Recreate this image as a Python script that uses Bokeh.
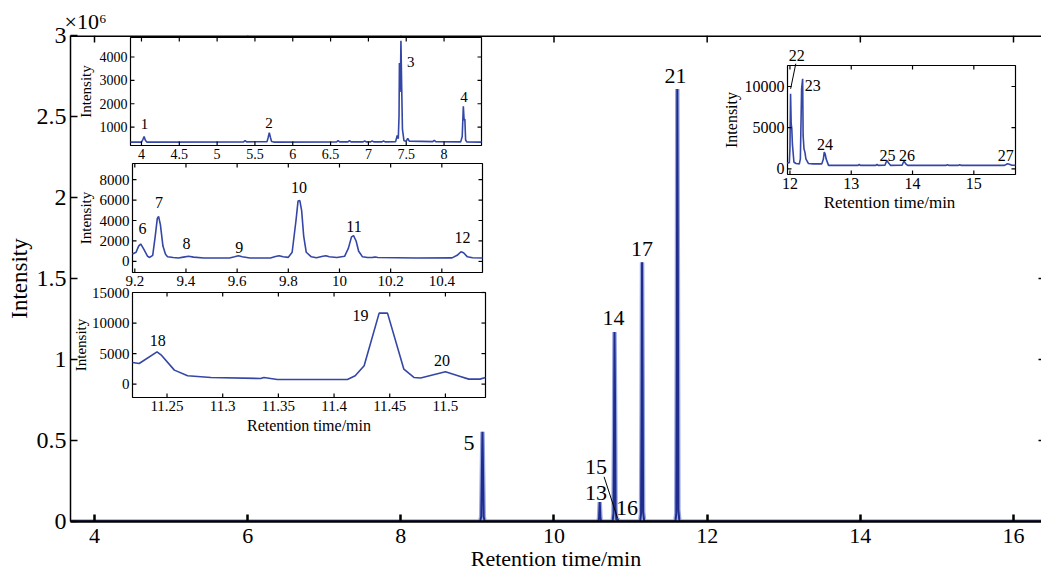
from bokeh.plotting import figure
from bokeh.models import Range1d, LinearAxis, FixedTicker, Label, Span
from bokeh.core.properties import value
from bokeh.embed import file_html
from bokeh.resources import INLINE

FONT = "Liberation Serif"

# ---------------- data ----------------
# main chromatogram, intensity in units of 10^6
main_rt = [3.69, 9.035, 9.05, 9.058, 9.066, 9.074, 9.082, 9.095,
           10.575, 10.588, 10.597, 10.606, 10.618,
           10.765, 10.777, 10.784, 10.79, 10.797, 10.804, 10.815, 10.83, 10.845,
           11.125, 11.137, 11.144, 11.15, 11.157, 11.164, 11.178,
           11.585, 11.597, 11.604, 11.61, 11.617, 11.624, 11.638, 16.36]
main_int = [0, 0, 0.03, 0.30, 0.554, 0.30, 0.03, 0,
            0, 0.02, 0.12, 0.02, 0,
            0, 0.05, 0.55, 1.17, 0.75, 0.08, 0.01, 0.015, 0,
            0, 0.05, 0.70, 1.60, 0.90, 0.06, 0,
            0, 0.05, 1.10, 2.67, 1.60, 0.07, 0, 0]

# inset 1: 3.9-8.5 min
ins1_rt = [3.855, 4.00, 4.02, 4.035, 4.05, 4.07, 5.35, 5.37, 5.39, 5.66, 5.675, 5.69, 5.705, 5.72, 5.75,
           6.58, 6.60, 6.62, 6.73, 6.75, 6.77, 6.93, 6.95, 6.97, 7.03, 7.05, 7.07, 7.18, 7.20, 7.22,
           7.36, 7.38, 7.395, 7.405, 7.41, 7.418, 7.425, 7.43, 7.44, 7.45, 7.47, 7.50, 7.52, 7.54,
           7.85, 7.87, 7.89, 8.22, 8.24, 8.255, 8.265, 8.275, 8.285, 8.30, 8.495]
ins1_int = [360, 360, 480, 600, 450, 360, 370, 430, 370, 380, 560, 760, 560, 390, 360,
            370, 420, 370, 370, 420, 370, 370, 410, 370, 370, 410, 370, 370, 410, 370,
            380, 650, 500, 1500, 3740, 2500, 3400, 4690, 2700, 900, 420, 400, 520, 400,
            380, 440, 380, 370, 600, 1890, 1300, 1350, 450, 370, 360]

# inset 2: 9.2-10.55 min
ins2_rt = [9.191, 9.205, 9.215, 9.223, 9.235, 9.25, 9.258, 9.27, 9.28, 9.288, 9.293, 9.30, 9.31, 9.32,
           9.328, 9.35, 9.37, 9.39, 9.41, 9.43, 9.47, 9.57, 9.59, 9.605, 9.62, 9.65, 9.73, 9.75, 9.764,
           9.78, 9.80, 9.815, 9.83, 9.838, 9.845, 9.852, 9.86, 9.87, 9.89, 9.91, 9.935, 9.947, 9.96,
           9.99, 10.02, 10.035, 10.047, 10.055, 10.065, 10.075, 10.09, 10.11, 10.13, 10.14, 10.15,
           10.30, 10.44, 10.46, 10.475, 10.485, 10.50, 10.52, 10.559]
ins2_int = [730, 900, 1500, 1710, 1200, 500, 390, 600, 2500, 4200, 4400, 3600, 1500, 700,
            460, 380, 330, 420, 500, 420, 330, 330, 450, 560, 450, 330, 330, 480, 560,
            450, 400, 900, 4000, 5900, 5950, 5000, 2500, 900, 450, 360, 500, 560, 450,
            380, 500, 1300, 2400, 2530, 2000, 1000, 450, 380, 400, 430, 380,
            340, 350, 600, 950, 850, 450, 360, 330]

# inset 3: 11.22-11.54 min
ins3_rt = [11.219, 11.225, 11.241, 11.2446, 11.2566, 11.2685, 11.2894, 11.334, 11.337, 11.349,
           11.412, 11.419, 11.427, 11.4405, 11.448, 11.4627, 11.4717, 11.4777, 11.5, 11.5134,
           11.521, 11.531, 11.536]
ins3_int = [3540, 3370, 5290, 4800, 2290, 1360, 1090, 920, 1090, 760,
            760, 1360, 3000, 11620, 11620, 2450, 1090, 1000, 2010, 1250,
            820, 820, 1090]

# inset 4: 12-15.7 min
ins4_rt = [11.956, 11.99, 12.0, 12.01, 12.02, 12.03, 12.04, 12.065, 12.10, 12.153, 12.17, 12.19,
           12.207, 12.215, 12.229, 12.245, 12.26, 12.30, 12.38, 12.52, 12.545, 12.56, 12.575, 12.59,
           12.63, 13.0, 13.11, 13.13, 13.15, 13.40, 13.42, 13.44, 13.55, 13.58, 13.61, 13.64, 13.83,
           13.86, 13.89, 13.92, 14.55, 14.57, 14.59, 14.75, 14.77, 14.79, 15.5, 15.55, 15.58, 15.62, 15.68]
ins4_int = [700, 750, 2500, 9110, 5500, 4900, 3000, 800, 650, 600, 1200, 9720,
            10930, 4000, 2430, 2000, 1210, 650, 600, 600, 1200, 2020, 1800, 1210,
            420, 420, 420, 520, 420, 420, 520, 420, 430, 1010, 700, 420, 430,
            950, 600, 420, 420, 500, 420, 420, 500, 420, 420, 620, 550, 430, 430]

main_xticks = [4, 6, 8, 10, 12, 14, 16]
main_yticks = [0, 0.5, 1, 1.5, 2, 2.5, 3]
main_ytick_labels = ["0", "0.5", "1", "1.5", "2", "2.5", "3"]
main_right_ticks = [0.5, 1, 1.5]

ins1_xticks = [4, 4.5, 5, 5.5, 6, 6.5, 7, 7.5, 8]
ins1_xlabels = ["4", "4.5", "5", "5.5", "6", "6.5", "7", "7.5", "8"]
ins1_yticks = [1000, 2000, 3000, 4000]
ins2_xticks = [9.2, 9.4, 9.6, 9.8, 10, 10.2, 10.4]
ins2_xlabels = ["9.2", "9.4", "9.6", "9.8", "10", "10.2", "10.4"]
ins2_yticks = [0, 2000, 4000, 6000, 8000]
ins3_xticks = [11.25, 11.3, 11.35, 11.4, 11.45, 11.5]
ins3_xlabels = ["11.25", "11.3", "11.35", "11.4", "11.45", "11.5"]
ins3_yticks = [0, 5000, 10000, 15000]
ins4_xticks = [12, 13, 14, 15]
ins4_xlabels = ["12", "13", "14", "15"]
ins4_yticks = [0, 5000, 10000]

LINE_DARK = "#1F2C8C"
LINE_LIGHT = "#9AA8E0"
LINE_INS = "#3446A6"

# ---------------- layout (page pixels; the page template has no body margin) ----------------
W, H = 1041, 577
FL, FT, FR, FB = 70, 35, 1041, 521
XR = (4 - (94 - FL) / 76.58, 16 + (FR - 1013) / 76.58)
YR = (0, 3)


def style_axis(ax, fs, tick=7, lw=1.5):
    ax.major_tick_in = tick
    ax.major_tick_out = 0
    ax.minor_tick_in = 0
    ax.minor_tick_out = 0
    ax.axis_line_color = "black"
    ax.axis_line_width = lw
    ax.major_tick_line_color = "black"
    ax.major_tick_line_width = lw
    ax.major_label_text_font = FONT
    ax.major_label_text_color = "black"
    ax.major_label_text_font_size = f"{fs}px"
    ax.axis_label_text_font = FONT
    ax.axis_label_text_font_style = "normal"
    ax.axis_label_text_color = "black"


p = figure(width=W, height=H, x_range=Range1d(*XR), y_range=Range1d(*YR),
           output_backend="svg", toolbar_location=None,
           min_border_left=FL, min_border_right=W - FR, min_border_top=FT, min_border_bottom=H - FB,
           x_axis_location=None, y_axis_location=None)
p.outline_line_color = None
p.xgrid.visible = False
p.ygrid.visible = False
p.background_fill_color = "white"
p.title.text = "×10⁶"
p.title.align = "left"
p.title.offset = -6
p.title.standoff = 4
p.title.text_font = FONT
p.title.text_font_size = "22px"
p.title.text_font_style = "normal"
p.title.text_color = "black"

bx = LinearAxis(ticker=FixedTicker(ticks=main_xticks, minor_ticks=[]),
                major_label_overrides={t: str(t) for t in main_xticks})
style_axis(bx, 22, tick=7, lw=2.5)
bx.major_label_standoff = 7
bx.axis_label = "Retention time/min"
bx.axis_label_text_font_size = "22px"
bx.axis_label_standoff = 0
p.add_layout(bx, "below")

ly = LinearAxis(ticker=FixedTicker(ticks=main_yticks, minor_ticks=[]),
                major_label_overrides=dict(zip(main_yticks, main_ytick_labels)))
style_axis(ly, 24, tick=7, lw=1.5)
ly.major_label_standoff = 4
ly.axis_label = "Intensity"
ly.axis_label_text_font_size = "23px"
ly.axis_label_standoff = 2
p.add_layout(ly, "left")

# top border with inward ticks, and the right-hand tick stubs at the clipped edge
p.add_layout(Span(location=3, dimension="width", line_color="black", line_width=3))
p.ray(x=main_xticks, y=[3] * len(main_xticks), length=7, length_units="screen",
      angle=-90, angle_units="deg", line_color="black", line_width=1.5)
p.ray(x=[XR[1]] * len(main_right_ticks), y=main_right_ticks, length=3, length_units="screen",
      angle=180, angle_units="deg", line_color="black", line_width=1.5)

p.line(main_rt, main_int, line_color=LINE_LIGHT, line_width=4.5)
p.line(main_rt, main_int, line_color=LINE_DARK, line_width=2)

main_peak_labels = [("5", 8.889, 0.484), ("13", 10.549, 0.176), ("15", 10.549, 0.336),
                    ("16", 10.954, 0.083), ("14", 10.778, 1.255), ("17", 11.15, 1.68),
                    ("21", 11.588, 2.747)]
for t, x, y in main_peak_labels:
    p.add_layout(Label(x=x, y=y, text=t, text_font=FONT, text_font_size="22px",
                       text_align="center", text_baseline="middle", text_color="black"))
p.segment(x0=[10.654], y0=[0.276], x1=[10.83], y1=[0.02], line_color="black", line_width=1)


# ---------------- insets drawn on extra ranges ----------------
xr_extra, yr_extra = {}, {}


def txt(x, y, t, fs, name, align="center", baseline="middle", angle=0):
    p.text(x=x, y=y, text=t, text_font=value(FONT), text_font_size=f"{fs}px",
           text_align=align, text_baseline=baseline, angle=angle, angle_units="deg",
           text_color="black", x_range_name=name, y_range_name=name)


def inset(name, box, xr, yr, xt, xl, yt, rt, inten, tfs, lfs, ylab_px, xlabel=None,
          xlab_px=28, xlab_shift=0, labels=(), label_fs=16):
    l, r, t, b = box
    a, bb = xr
    c, d = yr
    sx = (bb - a) / (r - l)
    sy = (d - c) / (b - t)
    xr_extra[name] = Range1d(a - (l - FL) * sx, bb + (FR - r) * sx)
    yr_extra[name] = Range1d(c - (FB - b) * sy, d + (t - FT) * sy)
    kw = dict(x_range_name=name, y_range_name=name)
    p.quad(left=[a], right=[bb], bottom=[c], top=[d], fill_color="white",
           line_color="black", line_width=1.2, **kw)
    p.line(rt, inten, line_color=LINE_INS, line_width=1.6, **kw)
    tk = dict(length=4, length_units="screen", angle_units="deg", line_color="black",
              line_width=1.2, **kw)
    p.ray(x=xt, y=[c] * len(xt), angle=90, **tk)
    p.ray(x=xt, y=[d] * len(xt), angle=-90, **tk)
    p.ray(x=[a] * len(yt), y=yt, angle=0, **tk)
    p.ray(x=[bb] * len(yt), y=yt, angle=180, **tk)
    txt(xt, [c - 3 * sy] * len(xt), xl, tfs, name, baseline="top")
    txt([a - 3 * sx] * len(yt), yt, [str(v) for v in yt], tfs, name, align="right")
    txt([a - ylab_px * sx], [(c + d) / 2], ["Intensity"], lfs, name, angle=90)
    if xlabel:
        txt([(a + bb) / 2 + xlab_shift * sx], [c - xlab_px * sy], [xlabel], lfs + 1, name)
    lt, lx, ly_ = zip(*labels)
    txt(list(lx), list(ly_), list(lt), label_fs, name)


inset("i1", (130, 481, 37, 145), (3.855, 8.495), (215, 4833), ins1_xticks, ins1_xlabels,
      ins1_yticks, ins1_rt, ins1_int, 14, 15, 45,
      labels=[("1", 4.04, 1146), ("2", 5.685, 1159), ("3", 7.56, 3776), ("4", 8.265, 2274)],
      label_fs=15)
inset("i2", (132, 482, 163, 272), (9.191, 10.559), (-1082, 9573), ins2_xticks, ins2_xlabels,
      ins2_yticks, ins2_rt, ins2_int, 15, 15, 47,
      labels=[("6", 9.23, 3184), ("7", 9.295, 5799), ("8", 9.402, 1710), ("9", 9.608, 1376),
              ("10", 9.842, 7215), ("11", 10.057, 3410), ("12", 10.481, 2300)])
inset("i3", (132, 485, 292, 397), (11.219, 11.536), (-2190, 15000), ins3_xticks, ins3_xlabels,
      ins3_yticks, ins3_rt, ins3_int, 15, 15, 52, xlabel="Retention time/min", xlab_px=28,
      labels=[("18", 11.2417, 7200), ("19", 11.4238, 11180), ("20", 11.497, 3814)])
inset("i4", (787, 1015, 65, 174), (11.96, 15.68), (-690, 12550), ins4_xticks, ins4_xlabels,
      ins4_yticks, ins4_rt, ins4_int, 16, 16, 56, xlabel="Retention time/min", xlab_px=28,
      xlab_shift=-12,
      labels=[("22", 12.11, 13766), ("23", 12.372, 10121), ("24", 12.573, 2952),
              ("25", 13.592, 1616), ("26", 13.91, 1616), ("27", 15.52, 1616)])
p.segment(x0=[12.095], y0=[12760], x1=[12.011], y1=[9720], line_color="black", line_width=1,
          x_range_name="i4", y_range_name="i4")

p.extra_x_ranges = xr_extra
p.extra_y_ranges = yr_extra

open("out.html", "w").write(file_html(p, INLINE))
